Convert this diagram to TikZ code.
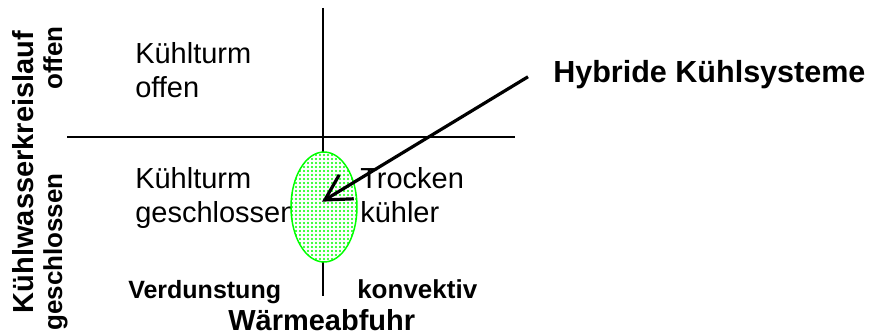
\documentclass[tikz,border=0pt]{standalone}
\usepackage{fontspec}
\setmainfont{Liberation Sans}[Ligatures=CommonOff]
\usetikzlibrary{shapes.geometric,patterns.meta,arrows.meta}
\tikzset{
  quad/.style={font=\fontsize{21.75}{25}\selectfont, align=left, inner sep=0pt},
  bftext/.style={font=\fontsize{#1}{#1}\selectfont\bfseries, inner sep=0pt},
  axis/.style={line width=1.6pt},
}
\begin{document}
\begin{tikzpicture}[x=0.75pt,y=-0.75pt]
    \useasboundingbox (0,0) rectangle (877,335);
    % axes
    \coordinate (vtop) at (323,8);
    \coordinate (vbot) at (323,296);
    \coordinate (hleft) at (67,137);
    \coordinate (hright) at (515,137);
    \draw[axis] (vtop) -- (vbot);
    \draw[axis] (hleft) -- (hright);
    % quadrants
    \node[quad,anchor=base west] (ko) at (135,97) {Kühlturm\\offen};
    \node[quad,anchor=base west] (kg) at (135,222) {Kühlturm\\geschlossen};
    \node[quad,anchor=base west] (tk) at (360,222) {Trocken\\kühler};
    % axis labels
    \node[bftext=21.75,rotate=90,anchor=base] (kwk) at (33,172) {Kühlwasserkreislauf};
    \node[bftext=19.5,rotate=90,anchor=base] (of) at (62,58) {offen};
    \node[bftext=19.5,rotate=90,anchor=base] (ge) at (62,252) {geschlossen};
    \node[bftext=18.75,anchor=base west] (vd) at (128,298) {Verdunstung};
    \node[bftext=19.5,anchor=base west] (kv) at (357,298) {konvektiv};
    \node[bftext=21.75,anchor=base west] (wa) at (228,330) {Wärmeabfuhr};
    % hybrid
    \node[ellipse,draw=green,line width=1.1pt,minimum width=49.5pt,minimum height=82.5pt,
      preaction={fill=white},pattern={Dots[distance=3pt,radius=0.8pt]},pattern color=green] (ell) at (324,207) {};
    \node[bftext=22.9,anchor=base west] (hy) at (553,82) {Hybride Kühlsysteme};
    \draw[line width=2.4pt,-{Straight Barb[length=19pt,width=21pt]}]
      ([xshift=-18.75pt,yshift=-2pt]hy.west) -- ([xshift=-1.5pt,yshift=4pt]ell.center);
\end{tikzpicture}
\end{document}
